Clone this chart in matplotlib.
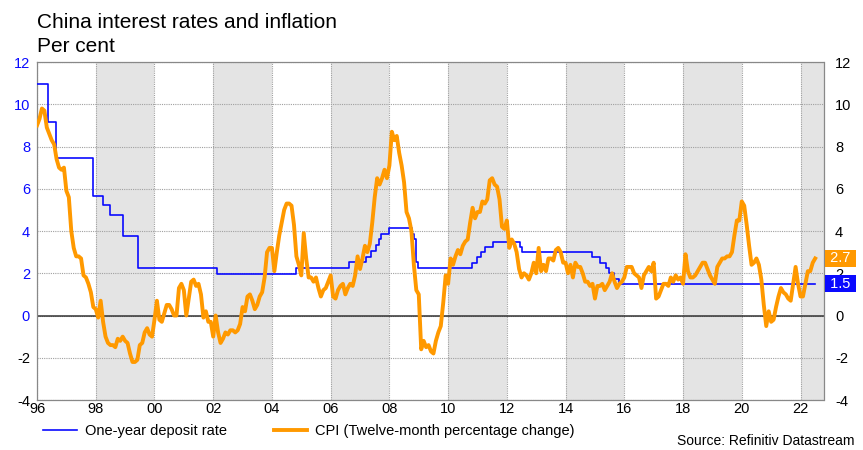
import numpy as np
import matplotlib
matplotlib.use("Agg")
import matplotlib.pyplot as plt
from matplotlib.lines import Line2D

plt.rcParams['font.family'] = ['Liberation Sans', 'DejaVu Sans']
plt.rcParams['axes.unicode_minus'] = False

# One-year deposit rate: date of each change (decimal year) and new level
deposit_dates = [1996.0, 1996.37, 1996.64, 1997.89, 1998.23, 1998.50, 1998.93, 1999.44,
                 2002.14, 2004.83, 2006.63, 2007.22, 2007.39, 2007.55, 2007.64, 2007.71,
                 2007.97, 2008.77, 2008.83, 2008.91, 2008.98, 2010.80, 2010.99, 2011.11,
                 2011.26, 2011.52, 2012.44, 2012.52, 2014.89, 2015.16, 2015.36, 2015.49,
                 2015.65, 2015.81, 2022.5]
deposit_rate = [10.98, 9.18, 7.47, 5.67, 5.22, 4.77, 3.78, 2.25,
                1.98, 2.25, 2.52, 2.79, 3.06, 3.33, 3.60, 3.87,
                4.14, 3.87, 3.60, 2.52, 2.25, 2.50, 2.75, 3.00,
                3.25, 3.50, 3.25, 3.00, 2.75, 2.50, 2.25, 2.00,
                1.75, 1.50, 1.50]

# CPI, twelve-month % change, monthly from Jan 1996
cpi_start = 1996
cpi = [
    9.0, 9.3, 9.8, 9.7, 8.9, 8.6, 8.3, 8.1, 7.4, 7.0, 6.9, 7.0,        # 1996
    5.9, 5.6, 4.0, 3.2, 2.8, 2.8, 2.7, 1.9, 1.8, 1.5, 1.1, 0.4,        # 1997
    0.3, -0.1, 0.7, -0.3, -1.0, -1.3, -1.4, -1.4, -1.5, -1.1, -1.2, -1.0,  # 1998
    -1.2, -1.3, -1.8, -2.2, -2.2, -2.1, -1.4, -1.3, -0.8, -0.6, -0.9, -1.0,  # 1999
    -0.2, 0.7, -0.2, -0.3, 0.1, 0.5, 0.5, 0.3, 0.0, 0.0, 1.3, 1.5,     # 2000
    1.2, 0.0, 0.8, 1.6, 1.7, 1.4, 1.5, 1.0, -0.1, 0.2, -0.3, -0.3,     # 2001
    -1.0, 0.0, -0.8, -1.3, -1.1, -0.8, -0.9, -0.7, -0.7, -0.8, -0.7, -0.4,  # 2002
    0.4, 0.2, 0.9, 1.0, 0.7, 0.3, 0.5, 0.9, 1.1, 1.8, 3.0, 3.2,        # 2003
    3.2, 2.1, 3.0, 3.8, 4.4, 5.0, 5.3, 5.3, 5.2, 4.3, 2.8, 2.4,        # 2004
    1.9, 3.9, 2.7, 1.8, 1.8, 1.6, 1.8, 1.3, 0.9, 1.2, 1.3, 1.6,        # 2005
    1.9, 0.9, 0.8, 1.2, 1.4, 1.5, 1.0, 1.3, 1.5, 1.4, 1.9, 2.8,        # 2006
    2.2, 2.7, 3.3, 3.0, 3.4, 4.4, 5.6, 6.5, 6.2, 6.5, 6.9, 6.5,        # 2007
    7.1, 8.7, 8.3, 8.5, 7.7, 7.1, 6.3, 4.9, 4.6, 4.0, 2.4, 1.2,        # 2008
    1.0, -1.6, -1.2, -1.5, -1.4, -1.7, -1.8, -1.2, -0.8, -0.5, 0.6, 1.9,  # 2009
    1.5, 2.7, 2.4, 2.8, 3.1, 2.9, 3.3, 3.5, 3.6, 4.4, 5.1, 4.6,        # 2010
    4.9, 4.9, 5.4, 5.3, 5.5, 6.4, 6.5, 6.2, 6.1, 5.5, 4.2, 4.1,        # 2011
    4.5, 3.2, 3.6, 3.4, 3.0, 2.2, 1.8, 2.0, 1.9, 1.7, 2.0, 2.5,        # 2012
    2.0, 3.2, 2.1, 2.4, 2.1, 2.7, 2.7, 2.6, 3.1, 3.2, 3.0, 2.5,        # 2013
    2.5, 2.0, 2.4, 1.8, 2.5, 2.3, 2.3, 2.0, 1.6, 1.6, 1.4, 1.5,        # 2014
    0.8, 1.4, 1.4, 1.5, 1.2, 1.4, 1.6, 2.0, 1.6, 1.3, 1.5, 1.6,        # 2015
    1.8, 2.3, 2.3, 2.3, 2.0, 1.9, 1.8, 1.3, 1.9, 2.1, 2.3, 2.1,        # 2016
    2.5, 0.8, 0.9, 1.2, 1.5, 1.5, 1.4, 1.8, 1.6, 1.9, 1.7, 1.8,        # 2017
    1.5, 2.9, 2.1, 1.8, 1.8, 1.9, 2.1, 2.3, 2.5, 2.5, 2.2, 1.9,        # 2018
    1.7, 1.5, 2.3, 2.5, 2.7, 2.7, 2.8, 2.8, 3.0, 3.8, 4.5, 4.5,        # 2019
    5.4, 5.2, 4.3, 3.3, 2.4, 2.5, 2.7, 2.4, 1.7, 0.5, -0.5, 0.2,       # 2020
    -0.3, -0.2, 0.4, 0.9, 1.3, 1.1, 1.0, 0.8, 0.7, 1.5, 2.3, 1.5,      # 2021
    0.9, 0.9, 1.5, 2.1, 2.1, 2.5, 2.7,                                 # 2022
]

x_ticks = list(range(1996, 2023, 2))
x_labels = [f"{y % 100:02d}" for y in x_ticks]
shaded = [(1998, 2000), (2002, 2004), (2006, 2008), (2010, 2012),
          (2014, 2016), (2018, 2020), (2022, 2023)]

BLUE = "#0a0aff"
ORANGE = "#ff9900"
FS = 10.5

cpi_t = cpi_start + np.arange(len(cpi)) / 12.0

fig = plt.figure(figsize=(8.63, 4.5), dpi=100)
ax = fig.add_axes([0.0429, 0.1111, 0.9119, 0.7511])
ax.set_xlim(1996, 2022.8)
ax.set_ylim(-4, 12)

for a, b in shaded:
    ax.axvspan(a, b, color="#e4e4e4", lw=0, zorder=0)

ax.set_xticks(x_ticks)
ax.set_xticklabels(x_labels)
ax.set_yticks(range(-4, 13, 2))
ax.grid(True, color="#a0a0a0", linestyle=(0, (1, 1)), linewidth=0.8, zorder=1)
ax.axhline(0, color="#333333", lw=1.1, zorder=2)

ax.step(deposit_dates, deposit_rate, where="post", color=BLUE, lw=1.2, zorder=3)
ax.plot(cpi_t, cpi, color=ORANGE, lw=2.8, solid_joinstyle="round", zorder=4)

for s in ax.spines.values():
    s.set_linestyle((0, (1, 1)))
    s.set_color("#888888")
    s.set_linewidth(0.9)

ax.tick_params(axis="both", length=0, labelsize=FS)
ax.tick_params(axis="y", pad=5)
ax.tick_params(axis="x", pad=1.5)
for lab, val in zip(ax.get_yticklabels(), range(-4, 13, 2)):
    lab.set_color(BLUE if val >= 0 else "black")

ax2 = ax.twinx()
ax2.set_ylim(-4, 12)
ax2.set_yticks(range(-4, 13, 2))
ax2.tick_params(axis="y", length=0, labelsize=FS, pad=8)
for s in ax2.spines.values():
    s.set_visible(False)

# latest-value tags on the right margin
for val, col in [(cpi[-1], ORANGE), (deposit_rate[-1], BLUE)]:
    ax2.annotate(f" {val:.1f} ", xy=(1.003, val), xycoords=("axes fraction", "data"),
                 va="center", ha="left", fontsize=FS, color="white",
                 annotation_clip=False, zorder=10,
                 bbox=dict(boxstyle="square,pad=0.1", fc=col, ec="none"))

fig.text(0.0429, 0.938, "China interest rates and inflation", fontsize=15, va="baseline")
fig.text(0.0429, 0.885, "Per cent", fontsize=15, va="baseline")

handles = [Line2D([], [], color=BLUE, lw=1.2), Line2D([], [], color=ORANGE, lw=2.8)]
fig.legend(handles, ["One-year deposit rate", "CPI (Twelve-month percentage change)"],
           loc="center left", bbox_to_anchor=(0.035, 0.043), ncol=2, frameon=False,
           fontsize=FS, handlelength=2.3, columnspacing=3.2, handletextpad=0.55)
fig.text(0.99, 0.005, "Source: Refinitiv Datastream", fontsize=10, ha="right", va="bottom")

fig.savefig("out.png", dpi=100)
